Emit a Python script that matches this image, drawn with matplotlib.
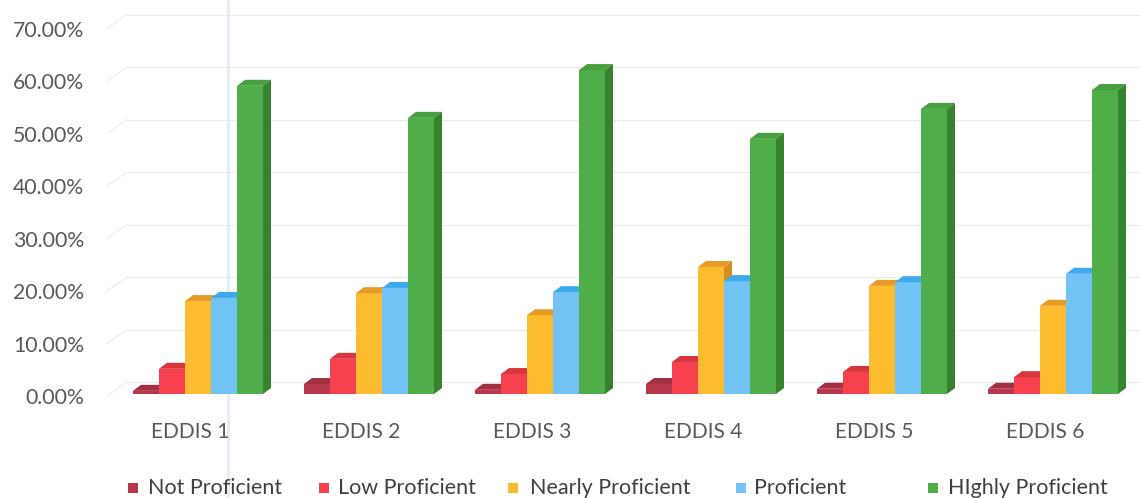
import matplotlib.pyplot as plt
from matplotlib.patches import Polygon, Rectangle
from matplotlib.lines import Line2D
import numpy as np

categories = ["EDDIS 1", "EDDIS 2", "EDDIS 3", "EDDIS 4", "EDDIS 5", "EDDIS 6"]
series_names = ["Not Proficient", "Low Proficient", "Nearly Proficient", "Proficient", "HIghly Proficient"]

not_proficient = [0.006, 0.019, 0.008, 0.019, 0.010, 0.010]
low_proficient = [0.048, 0.067, 0.038, 0.061, 0.042, 0.032]
nearly_proficient = [0.177, 0.192, 0.150, 0.242, 0.206, 0.168]
proficient = [0.183, 0.202, 0.194, 0.215, 0.213, 0.229]
highly_proficient = [0.587, 0.526, 0.617, 0.486, 0.543, 0.579]

y_ticks = [0.0, 0.1, 0.2, 0.3, 0.4, 0.5, 0.6, 0.7]

front_colors = ["#b8374a", "#f8414f", "#fdbb2f", "#72c2f5", "#4fae49"]
top_colors = ["#a42f40", "#d8363f", "#e89a27", "#3fa9ee", "#47a040"]
side_colors = ["#8e2837", "#c2303b", "#d58c22", "#4a9fd6", "#37822f"]

plt.rcParams["font.family"] = ["Lato", "DejaVu Sans"]

W, H = 1140, 498
fig = plt.figure(figsize=(W / 100, H / 100), dpi=100)

# front plane: 0% at pixel row 394, 5.25 px per percent; group i centred at 198 + 171*i px
px_x, px_y = 171.0, 525.0
ax = fig.add_axes([100 / W, (H - 394) / H, 1030 / W, 0.73 * px_y / H])
ax.set_xlim((100 - 198) / px_x, (1130 - 198) / px_x)
ax.set_ylim(0, 0.73)
ax.axis("off")

# back wall gridlines with the short diagonal on the side wall
back_dx, back_dy = 20 / px_x, 12 / px_y
x_wall = (127 - 198) / px_x
x_start = (107 - 198) / px_x
for v in y_ticks:
    yb = v + back_dy
    yl = v - 4 / px_y
    ax.plot([x_wall, 6.0], [yb, yb], color="#e4e4e4", lw=0.7, ls=(0, (3, 1)),
            zorder=1, clip_on=False)
    ax.plot([x_start, x_wall], [yl + 2 / px_y, yb], color="#e8e8e8", lw=0.7, zorder=1, clip_on=False)
    ax.text((84 - 198) / px_x, yl, f"{v * 100:.2f}%", ha="right", va="center",
            fontsize=15.3, color="#595959")

# 3-D looking clustered columns
data = [not_proficient, low_proficient, nearly_proficient, proficient, highly_proficient]
w = 26 / px_x
dx, dy = 8 / px_x, 6 / px_y
x = np.arange(len(categories))
for j, vals in enumerate(data):
    lefts = x + (j - 2.5) * w
    ax.bar(lefts, vals, width=w, align="edge", color=front_colors[j], zorder=3, linewidth=0)
    for x0, h in zip(lefts, vals):
        top = Polygon([(x0, h), (x0 + dx, h + dy), (x0 + w + dx, h + dy), (x0 + w, h)],
                      closed=True, facecolor=top_colors[j], edgecolor="none", zorder=3)
        side = Polygon([(x0 + w, 0), (x0 + w + dx, dy), (x0 + w + dx, h + dy), (x0 + w, h)],
                       closed=True, facecolor=side_colors[j], edgecolor="none", zorder=3)
        ax.add_patch(top)
        ax.add_patch(side)

for i, name in enumerate(categories):
    ax.text(i - 8 / px_x, (394 - 432) / px_y, name, ha="center", va="center",
            fontsize=15, color="#595959")

# legend row along the bottom
leg_marker_x = [133, 324, 513, 741, 933]
leg_text_x = [148, 338, 530, 754, 948]
leg_y = 488
for j, name in enumerate(series_names):
    fig.patches.append(Rectangle(((leg_marker_x[j] - 5) / W, (H - leg_y - 5) / H), 10 / W, 10 / H,
                                 transform=fig.transFigure, facecolor=front_colors[j],
                                 edgecolor="none"))
    fig.text(leg_text_x[j] / W, (H - leg_y) / H, name, ha="left", va="center",
             fontsize=15.5, color="#404040")

# faint vertical streak across the page
fig.add_artist(Line2D([228 / W, 228 / W], [0, 1], transform=fig.transFigure,
                      color="#e6edf8", lw=2.5, zorder=0))

fig.savefig("out.png", dpi=100)
